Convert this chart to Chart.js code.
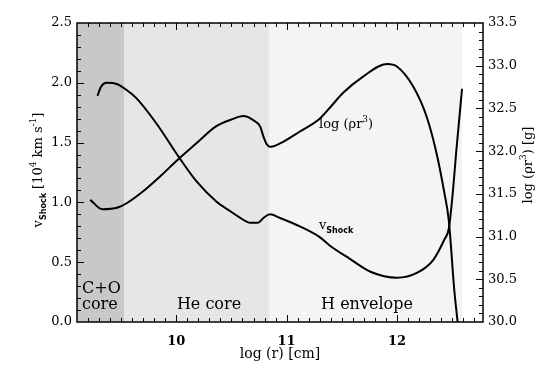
<!DOCTYPE html>
<html>
<head>
<meta charset="utf-8">
<script src="https://cdn.jsdelivr.net/npm/chart.js@4/dist/chart.umd.min.js"></script>
<style>
  html, body { margin: 0; padding: 0; background: #fff; }
</style>
</head>
<body>
<canvas id="shockChart" width="545" height="374"></canvas>
<script>
// shock velocity (left axis)
const vShockR = [9.285, 9.32, 9.37, 9.46, 9.55, 9.64, 9.82, 10.03, 10.18, 10.36, 10.50, 10.58, 10.67, 10.74, 10.79, 10.85, 10.94, 11.12, 11.30, 11.39, 11.57, 11.76, 12.00, 12.18, 12.33, 12.43, 12.47, 12.50, 12.54, 12.59];
const vShockV = [1.89, 1.97, 2.00, 1.99, 1.94, 1.87, 1.66, 1.37, 1.18, 1.01, 0.92, 0.87, 0.83, 0.83, 0.87, 0.90, 0.87, 0.80, 0.71, 0.64, 0.53, 0.42, 0.37, 0.41, 0.52, 0.69, 0.78, 1.02, 1.45, 1.95];

// log(rho r^3) (right axis)
const rhoR = [9.22, 9.33, 9.47, 9.55, 9.70, 9.85, 10.03, 10.18, 10.36, 10.50, 10.61, 10.70, 10.76, 10.79, 10.82, 10.85, 10.94, 11.12, 11.30, 11.40, 11.51, 11.69, 11.91, 12.00, 12.15, 12.27, 12.36, 12.43, 12.47, 12.52, 12.55];
const rhoV = [31.43, 31.32, 31.34, 31.39, 31.53, 31.70, 31.92, 32.09, 32.29, 32.37, 32.41, 32.36, 32.29, 32.17, 32.08, 32.05, 32.09, 32.23, 32.38, 32.52, 32.68, 32.87, 33.02, 32.99, 32.75, 32.40, 31.97, 31.51, 31.19, 30.37, 30.00];

// composition zones (log r boundaries)
const zoneEdges = [9.1, 9.53, 10.84, 12.59];
const zoneColors = ['#c8c8c8', '#e6e6e6', '#f4f4f4'];

const xTicks = [10, 11, 12];
const xRange = [9.1, 12.78];
const vRange = [0, 2.5];
const rhoRange = [30, 33.5];

const serif = '"DejaVu Serif", serif';
const sans = '"DejaVu Sans", sans-serif';

function toPoints(xs, ys) {
    return xs.map((x, i) => ({ x: x, y: ys[i] }));
}

// draw a run of text pieces (sub/superscripts) starting at x
function drawRich(ctx, parts, x, y, align) {
    let total = 0;
    parts.forEach(p => { ctx.font = p.font; total += ctx.measureText(p.t).width; });
    let cx = align === 'center' ? x - total / 2 : x;
    parts.forEach(p => {
        ctx.font = p.font;
        ctx.fillText(p.t, cx, y + (p.dy || 0));
        cx += ctx.measureText(p.t).width;
    });
}

const zonePlugin = {
    id: 'zonePlugin',
    beforeDatasetsDraw(chart) {
        const { ctx, chartArea: a, scales } = chart;
        ctx.save();
        for (let i = 0; i < zoneColors.length; i++) {
            const x0 = scales.x.getPixelForValue(zoneEdges[i]);
            const x1 = scales.x.getPixelForValue(zoneEdges[i + 1]);
            ctx.fillStyle = zoneColors[i];
            ctx.fillRect(x0, a.top, x1 - x0, a.bottom - a.top);
        }
        ctx.restore();
    }
};

const framePlugin = {
    id: 'framePlugin',
    afterDraw(chart) {
        const c = chart.ctx;
        const a = chart.chartArea;
        const sx = chart.scales.x, sy = chart.scales.y, sy2 = chart.scales.y2;
        c.save();
        c.fillStyle = '#000';

        // inward ticks
        for (let k = 92; k <= 127; k++) {
            const px = Math.round(sx.getPixelForValue(k / 10));
            const len = k % 10 === 0 ? 7 : 4;
            c.fillRect(px, a.bottom - len, 1, len);
            c.fillRect(px, a.top, 1, len);
        }
        for (let k = 1; k < 25; k++) {
            const py = Math.round(sy.getPixelForValue(k / 10));
            const len = k % 5 === 0 ? 7 : 4;
            c.fillRect(a.left, py, len, 1);
        }
        for (let k = 301; k < 335; k++) {
            const py = Math.round(sy2.getPixelForValue(k / 10));
            const len = k % 5 === 0 ? 7 : 4;
            c.fillRect(a.right - len, py, len, 1);
        }

        c.strokeStyle = '#000';
        c.lineWidth = 1.5;
        c.strokeRect(a.left, a.top, a.right - a.left, a.bottom - a.top);

        c.textBaseline = 'alphabetic';
        c.textAlign = 'left';

        // curve labels
        drawRich(c, [
            { t: 'log (\u03c1r', font: '13px ' + serif },
            { t: '3', font: '9px ' + serif, dy: -6 },
            { t: ')', font: '13px ' + serif }
        ], 319, 128, 'left');
        drawRich(c, [
            { t: 'v', font: '13px ' + serif },
            { t: 'Shock', font: 'bold 8px ' + sans, dy: 4 }
        ], 319, 229, 'left');

        // zone labels
        c.font = '16px ' + serif;
        c.fillText('C+O', 82, 293);
        c.fillText('core', 82, 309);
        c.textAlign = 'center';
        c.fillText('He core', 209, 309);
        c.fillText('H envelope', 367, 309);

        // axis titles
        c.textAlign = 'left';
        drawRich(c, [{ t: 'log (r) [cm]', font: '14px ' + serif }], 280, 358, 'center');

        c.save();
        c.translate(42, 170);
        c.rotate(-Math.PI / 2);
        drawRich(c, [
            { t: 'v', font: '13px ' + serif },
            { t: 'Shock', font: 'bold 8px ' + sans, dy: 4 },
            { t: ' [10', font: '13px ' + serif },
            { t: '4', font: '9px ' + serif, dy: -6 },
            { t: ' km s', font: '13px ' + serif },
            { t: '-1', font: '9px ' + serif, dy: -6 },
            { t: ']', font: '13px ' + serif }
        ], 0, 0, 'center');
        c.restore();

        c.save();
        c.translate(532, 165);
        c.rotate(-Math.PI / 2);
        drawRich(c, [
            { t: 'log (\u03c1r', font: '13px ' + serif },
            { t: '3', font: '9px ' + serif, dy: -6 },
            { t: ') [g]', font: '13px ' + serif }
        ], 0, 0, 'center');
        c.restore();

        c.restore();
    }
};

const chartCtx = document.getElementById('shockChart').getContext('2d');
new Chart(chartCtx, {
    type: 'line',
    data: {
        datasets: [
            {
                label: 'vShock',
                data: toPoints(vShockR, vShockV),
                yAxisID: 'y',
                borderColor: '#000',
                borderWidth: 2,
                pointRadius: 0,
                cubicInterpolationMode: 'monotone',
                fill: false
            },
            {
                label: 'log rho r3',
                data: toPoints(rhoR, rhoV),
                yAxisID: 'y2',
                borderColor: '#000',
                borderWidth: 2,
                pointRadius: 0,
                cubicInterpolationMode: 'monotone',
                fill: false
            }
        ]
    },
    options: {
        responsive: false,
        animation: false,
        layout: { padding: { top: 23, left: 0, right: 0, bottom: 0 } },
        plugins: { legend: { display: false }, tooltip: { enabled: false } },
        scales: {
            x: {
                type: 'linear',
                min: xRange[0],
                max: xRange[1],
                grid: { display: false },
                border: { display: false },
                afterBuildTicks: s => { s.ticks = xTicks.map(v => ({ value: v })); },
                afterFit: s => { s.height = 52; },
                ticks: {
                    padding: 4,
                    color: '#000',
                    font: { family: serif, size: 13, weight: 'bold' },
                    callback: v => String(v)
                }
            },
            y: {
                type: 'linear',
                position: 'left',
                min: vRange[0],
                max: vRange[1],
                grid: { display: false, tickLength: 5 },
                border: { display: false },
                afterFit: s => { s.width = 77; },
                ticks: {
                    stepSize: 0.5,
                    padding: 0,
                    color: '#000',
                    font: { family: serif, size: 13 },
                    callback: v => v.toFixed(1)
                }
            },
            y2: {
                type: 'linear',
                position: 'right',
                min: rhoRange[0],
                max: rhoRange[1],
                grid: { display: false, tickLength: 5 },
                border: { display: false },
                afterFit: s => { s.width = 62; },
                ticks: {
                    stepSize: 0.5,
                    padding: 0,
                    color: '#000',
                    font: { family: serif, size: 13 },
                    callback: v => v.toFixed(1)
                }
            }
        }
    },
    plugins: [zonePlugin, framePlugin]
});
</script>
</body>
</html>
